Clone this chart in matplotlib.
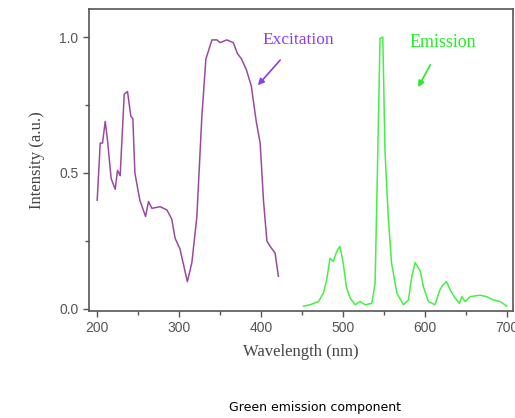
import matplotlib
matplotlib.use("Agg")
import matplotlib.pyplot as plt
from matplotlib.ticker import MultipleLocator

# Excitation spectrum (nm, normalised intensity)
exc_wl = [200, 203.7, 206.5, 209.8, 212.6, 217, 222, 224.8, 228, 233, 237, 241, 243.5,
          246, 252, 259, 262.6, 266.7, 276.8, 285, 291, 295, 301, 310, 315.5, 321.6,
          327.7, 332.6, 340, 346, 350, 358, 366, 371, 376, 382, 388, 394, 398.8, 402.8,
          407, 411, 417, 421]
exc_int = [0.40, 0.61, 0.61, 0.69, 0.62, 0.48, 0.44, 0.51, 0.49, 0.79, 0.80, 0.71, 0.70,
           0.50, 0.40, 0.34, 0.395, 0.37, 0.376, 0.364, 0.33, 0.26, 0.22, 0.10, 0.17, 0.34,
           0.71, 0.92, 0.99, 0.99, 0.98, 0.99, 0.98, 0.94, 0.92, 0.88, 0.82, 0.69, 0.61, 0.40,
           0.25, 0.23, 0.205, 0.12]

# Emission spectrum
emi_wl = [451.6, 459.8, 470, 476, 480, 484, 488, 492, 496, 500, 504, 508.5, 514.6, 520.7,
          526.8, 535, 539, 541.9, 545, 548.4, 551, 555, 559, 565.5, 573.5, 579.7, 583.8,
          587.8, 594, 598, 604, 612, 618, 622, 626, 630.5, 636.6, 641.8, 644.7, 648.8, 655,
          667, 675, 683, 691.5, 699.6]
emi_int = [0.01, 0.015, 0.027, 0.058, 0.107, 0.186, 0.174, 0.21, 0.23, 0.17, 0.08, 0.04,
           0.015, 0.027, 0.015, 0.02, 0.094, 0.52, 0.995, 1.0, 0.585, 0.34, 0.17, 0.058,
           0.015, 0.033, 0.12, 0.17, 0.14, 0.08, 0.027, 0.015, 0.07, 0.088, 0.10, 0.07, 0.04,
           0.02, 0.045, 0.027, 0.045, 0.05, 0.045, 0.033, 0.027, 0.01]

fig = plt.figure(figsize=(5.15, 4.18), dpi=100)
ax = fig.add_axes([0.1728, 0.256, 0.823, 0.722])

ax.plot(exc_wl, exc_int, color="#9a4a9e", lw=1.1)
ax.plot(emi_wl, emi_int, color="#44f044", lw=1.1)

ax.set_xlim(190, 707)
ax.set_ylim(-0.008, 1.103)
ax.xaxis.set_major_locator(MultipleLocator(100))
ax.xaxis.set_minor_locator(MultipleLocator(50))
ax.yaxis.set_major_locator(MultipleLocator(0.5))
ax.yaxis.set_minor_locator(MultipleLocator(0.25))
ax.tick_params(which="both", direction="out", colors="#555555", labelsize=10)
ax.tick_params(which="major", length=4, width=1)
ax.tick_params(which="minor", length=3, width=1)
for lab in ax.get_xticklabels() + ax.get_yticklabels():
    lab.set_family("Liberation Sans")
for s in ax.spines.values():
    s.set_color("#555555")
    s.set_linewidth(1.2)

serif = "Liberation Serif"
ax.set_xlabel("Wavelength (nm)", family=serif, fontsize=12, color="#444444", labelpad=6)
ax.set_ylabel("Intensity (a.u.)", family=serif, fontsize=12, color="#444444", labelpad=10)

ax.annotate("Excitation", xy=(396, 0.823), xytext=(445, 0.99),
            ha="center", va="center", family=serif, fontsize=12.5, color="#8a3ee8",
            arrowprops=dict(arrowstyle="-|>", color="#8a3ee8", lw=1.2,
                            shrinkA=9, shrinkB=0, mutation_scale=9))
ax.annotate("Emission", xy=(591.5, 0.816), xytext=(621, 0.98),
            ha="center", va="center", family=serif, fontsize=13, color="#22ee22",
            arrowprops=dict(arrowstyle="-|>", color="#22ee22", lw=1.2,
                            shrinkA=9, shrinkB=0, mutation_scale=9))

fig.text(0.612, 0.024, "Green emission component", ha="center", va="center",
         family="DejaVu Sans", fontsize=9, color="black")

fig.savefig("out.png", dpi=100)
